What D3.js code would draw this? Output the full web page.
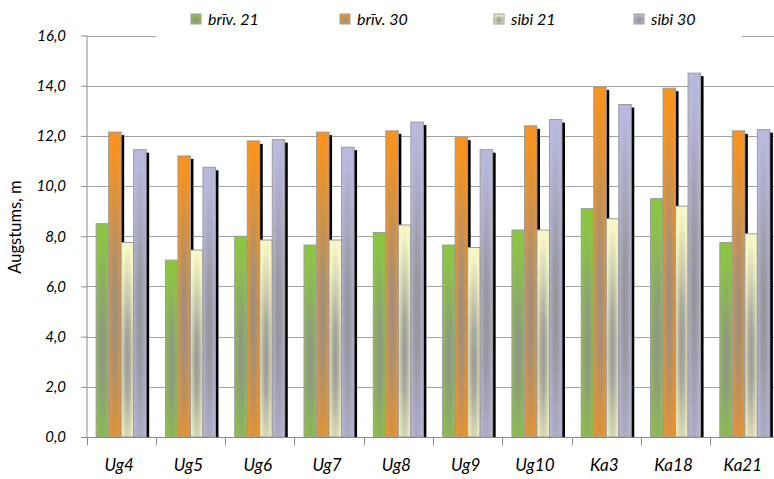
<!DOCTYPE html>
<html><head><meta charset="utf-8">
<script src="https://cdn.jsdelivr.net/npm/d3@7"></script>
<style>html,body{margin:0;padding:0;background:#fff;}svg{display:block;}</style>
</head><body>
<script>
const categories = ["Ug4","Ug5","Ug6","Ug7","Ug8","Ug9","Ug10","Ka3","Ka18","Ka21"];
const briv21 = [8.5, 7.05, 8.0, 7.65, 8.15, 7.65, 8.25, 9.1, 9.5, 7.75];
const briv30 = [12.15, 11.2, 11.8, 12.15, 12.2, 11.95, 12.4, 13.95, 13.9, 12.2];
const sibi21 = [7.75, 7.45, 7.85, 7.85, 8.45, 7.55, 8.25, 8.7, 9.2, 8.1];
const sibi30 = [11.45, 10.75, 11.85, 11.55, 12.55, 11.45, 12.65, 13.25, 14.5, 12.25];
const seriesNames = ["brīv. 21","brīv. 30","sibi 21","sibi 30"];
const seriesValues = [briv21, briv30, sibi21, sibi30];
const seriesColors = ["#8cc641","#f7931e","#f6f6c6","#b9b9de"];
const yTicks = [0,2,4,6,8,10,12,14,16];

const W = 774, H = 479;
const svg = d3.select("body").append("svg").attr("width", W).attr("height", H);
const defs = svg.append("defs");
const FONT = "Lato, 'Open Sans', sans-serif";
const gray = "#8f8f8f";

const x0 = d3.scaleBand().domain(categories).range([86.5, 779.5]).paddingInner(0).paddingOuter(0);
const x1 = d3.scaleBand().domain(d3.range(4)).range([0, x0.bandwidth()]).paddingInner(0).paddingOuter(0.77);
const y = d3.scaleLinear().domain([0, 16]).range([437, 35.5]);

let gid = 0;
function makeGrad(color, cx, top, w, h) {
  const id = "bg" + (gid++);
  const cy = top + 0.6 * h;
  const rx = 0.62 * w;
  const ry = 0.58 * h;
  const rg = defs.append("radialGradient").attr("id", id).attr("gradientUnits", "userSpaceOnUse")
    .attr("cx", cx).attr("cy", cy).attr("r", rx).attr("fx", cx).attr("fy", cy)
    .attr("gradientTransform", `translate(${cx},${cy}) scale(1,${ry / rx}) translate(${-cx},${-cy})`);
  [[0, 0.88], [0.3, 0.75], [0.65, 0.35], [1, 0]].forEach(([o, t]) =>
    rg.append("stop").attr("offset", o).attr("stop-color", d3.interpolateRgb(color, gray)(t)));
  return `url(#${id})`;
}

// gridlines
svg.append("g").selectAll("line").data(yTicks.filter(d => d > 0)).join("line")
  .attr("x1", 87).attr("x2", 780).attr("y1", d => Math.round(y(d)) + 0.5).attr("y2", d => Math.round(y(d)) + 0.5)
  .attr("stroke", "#a3a3a3").attr("stroke-width", 1);

// bars
const groups = svg.append("g").selectAll("g").data(categories).join("g");
groups.each(function(c, ci) {
  const g = d3.select(this);
  seriesValues.forEach((vals, si) => {
    const v = vals[ci];
    const bx = x0(c) + x1(si), bw = x1.bandwidth();
    const top = y(v), bottom = y(0);
    g.append("rect").attr("x", bx + 3).attr("y", top + 3).attr("width", bw).attr("height", bottom - top - 3).attr("fill", "#000");
    g.append("rect").attr("x", bx).attr("y", top).attr("width", bw).attr("height", bottom - top)
      .attr("fill", makeGrad(seriesColors[si], bx + bw / 2, top, bw, bottom - top))
      .attr("stroke", "#9c9c9c").attr("stroke-width", 1);
  });
});

// y axis
const yAxis = d3.axisLeft(y).tickValues(yTicks).tickSize(6).tickPadding(15)
  .tickFormat(d => d3.format(".1f")(d).replace(".", ","));
const ya = svg.append("g").attr("transform", "translate(87,0)").call(yAxis);
ya.attr("font-family", FONT).attr("font-size", 15);
ya.select(".domain").attr("stroke", "#8c8c8c").attr("d", `M0,${y(16)}V${y(0)}`);
ya.selectAll(".tick line").attr("stroke", "#8c8c8c");
ya.selectAll(".tick text").attr("font-family", FONT).style("font-style", "italic").attr("font-size", 15).attr("fill", "#000");

// x axis
const xa = svg.append("g").attr("transform", `translate(0,${y(0)})`);
xa.append("line").attr("x1", 86.5).attr("x2", 780).attr("y1", 0.5).attr("y2", 0.5).attr("stroke", "#8c8c8c");
xa.selectAll("line.tk").data(categories).join("line").attr("class","tk")
  .attr("x1", c => Math.round(x0(c)) + 0.5).attr("x2", c => Math.round(x0(c)) + 0.5)
  .attr("y1", 0).attr("y2", 8).attr("stroke", "#8c8c8c");
xa.selectAll("text").data(categories).join("text")
  .attr("x", c => x0(c) + x0.bandwidth() / 2 - 2).attr("y", 34)
  .attr("text-anchor", "middle").attr("font-family", FONT).style("font-style", "italic").attr("font-size", 17)
  .text(c => c);

// y title
svg.append("text").attr("transform", "translate(21,227) rotate(-90)").attr("text-anchor", "middle")
  .attr("font-family", FONT).attr("font-size", 16.5).text("Augstums, m");

// legend
svg.append("rect").attr("x", 156).attr("y", 0).attr("width", 586).attr("height", 40).attr("fill", "#fff");
const legX = [191, 340, 494, 634];
const leg = svg.append("g").selectAll("g").data(seriesNames).join("g");
leg.append("rect").attr("x", (d, i) => legX[i]).attr("y", 14).attr("width", 10).attr("height", 10)
  .attr("fill", (d, i) => makeGrad(seriesColors[i], legX[i] + 5, 14, 10, 10)).attr("stroke", "#9c9c9c");
leg.append("text").attr("x", (d, i) => legX[i] + 17).attr("y", 25).attr("font-family", FONT).style("font-style", "italic")
  .attr("font-size", 16).text(d => d);
</script>
</body></html>
